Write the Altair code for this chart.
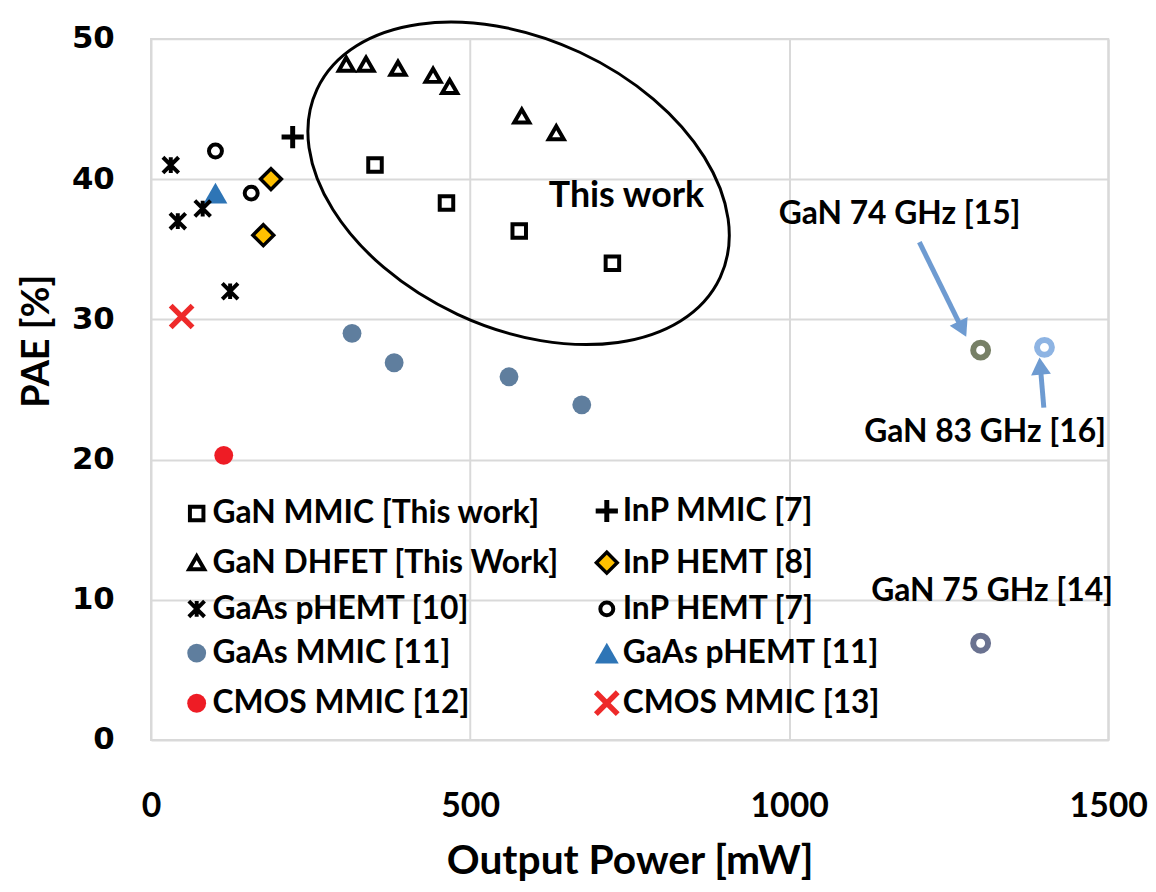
import altair as alt
import pandas as pd

# ---------------- data ----------------
x_ticks = [0, 500, 1000, 1500]
y_ticks = [0, 10, 20, 30, 40, 50]

# legend entries, column by column (left column first)
legend_order = [
    "GaN MMIC [This work]", "GaN DHFET [This Work]", "GaAs pHEMT [10]",
    "GaAs MMIC [11]", "CMOS MMIC [12]",
    "InP MMIC [7]", "InP HEMT [8]", "InP HEMT [7]",
    "GaAs pHEMT [11]", "CMOS MMIC [13]",
]

gan_mmic_x = [351, 463, 577, 723]
gan_mmic_y = [41.0, 38.3, 36.3, 34.0]
gan_dhfet_x = [306, 337, 387, 442, 468, 581, 635]
gan_dhfet_y = [48.2, 48.2, 47.9, 47.4, 46.6, 44.5, 43.3]
gaas_phemt10_x = [31, 42, 81, 124]
gaas_phemt10_y = [41.0, 37.0, 37.9, 32.0]
inp_hemt7_x = [101, 157]
inp_hemt7_y = [42.0, 39.0]
inp_hemt8_x = [188, 176]
inp_hemt8_y = [40.0, 36.0]
inp_mmic7_x = [222]
inp_mmic7_y = [43.0]
gaas_phemt11_x = [101]
gaas_phemt11_y = [39.0]
gaas_mmic11_x = [315, 381, 561, 675]
gaas_mmic11_y = [29.0, 26.9, 25.9, 23.9]
cmos12_x = [114]
cmos12_y = [20.3]
cmos13_x = [48]
cmos13_y = [30.2]

gan_ref_labels = ["GaN 74 GHz [15]", "GaN 83 GHz [16]", "GaN 75 GHz [14]"]
gan_ref_x = [1300, 1400, 1300]
gan_ref_y = [27.8, 28.0, 6.9]

# annotation anchors (data units)
label_x = [1173, 1307, 1318]
label_y = [37.5, 21.95, 10.6]
this_work_x = [745]
this_work_y = [38.8]
ellipse_cx = [576]
ellipse_cy = [39.7]
arrow_x = [1204, 1399]
arrow_y = [35.5, 23.7]
arrow_x2 = [1269, 1394]
arrow_y2 = [29.5, 26.4]
head1_x, head1_y = [1271.5], [29.3]
head2_x, head2_y = [1393.4], [26.66]

# ---------------- build tables ----------------
groups = [
    ("GaAs pHEMT [11]", gaas_phemt11_x, gaas_phemt11_y),
    ("GaAs pHEMT [10]", gaas_phemt10_x, gaas_phemt10_y),
    ("InP HEMT [7]", inp_hemt7_x, inp_hemt7_y),
    ("InP HEMT [8]", inp_hemt8_x, inp_hemt8_y),
    ("InP MMIC [7]", inp_mmic7_x, inp_mmic7_y),
    ("GaAs MMIC [11]", gaas_mmic11_x, gaas_mmic11_y),
    ("CMOS MMIC [12]", cmos12_x, cmos12_y),
    ("CMOS MMIC [13]", cmos13_x, cmos13_y),
    ("GaN MMIC [This work]", gan_mmic_x, gan_mmic_y),
    ("GaN DHFET [This Work]", gan_dhfet_x, gan_dhfet_y),
]
rows = []
for name, xs, ys in groups:
    for xv, yv in zip(xs, ys):
        rows.append({"series": name, "x": xv, "y": yv})
pts = pd.DataFrame(rows)

STAR = "M -1 -1 L 1 1 M -1 1 L 1 -1 M 0 -1 L 0 1"
PLUS = "M -1 0 L 1 0 M 0 -1 L 0 1"
XMARK = "M -1 -1 L 1 1 M -1 1 L 1 -1"
ELLIPSE = ("M 1 0 C 1 0.359 0.552 0.65 0 0.65 C -0.552 0.65 -1 0.359 -1 0 "
           "C -1 -0.359 -0.552 -0.65 0 -0.65 C 0.552 -0.65 1 -0.359 1 0 Z")

# marker style per series: shape, fill, stroke, stroke width, size
style = {
    "GaN MMIC [This work]": ("square", "white", "black", 4, 185),
    "GaN DHFET [This Work]": ("triangle-up", "white", "black", 4, 230),
    "GaAs pHEMT [10]": (STAR, "transparent", "black", 4, 250),
    "GaAs MMIC [11]": ("circle", "#5f7e9e", "#5f7e9e", 0, 361),
    "CMOS MMIC [12]": ("circle", "#ee1c25", "#ee1c25", 0, 361),
    "InP MMIC [7]": (PLUS, "transparent", "black", 5, 500),
    "InP HEMT [8]": ("diamond", "#ffc000", "black", 3.5, 441),
    "InP HEMT [7]": ("circle", "white", "black", 4, 170),
    "GaAs pHEMT [11]": ("triangle-up", "#2e75b6", "#2e75b6", 0, 576),
    "CMOS MMIC [13]": (XMARK, "transparent", "#ee2a2a", 5.5, 484),
}
shape_range = [style[s][0] for s in legend_order]
fill_range = [style[s][1] for s in legend_order]
stroke_range = [style[s][2] for s in legend_order]
sw_range = [style[s][3] for s in legend_order]
size_range = [style[s][4] for s in legend_order]

xscale = alt.Scale(domain=[0, 1500], nice=False, zero=False)
yscale = alt.Scale(domain=[0, 50], nice=False, zero=False)
GRID = "#d9d9d9"
xaxis = alt.Axis(values=x_ticks, format="d", grid=True, gridColor=GRID, gridWidth=2,
                 domain=False, ticks=False, tickSize=0, labelFont="Lato", labelFontSize=34,
                 labelFontWeight="bold", labelColor="black", labelPadding=50,
                 labelFlush=False, titleFont="Lato", titleFontSize=41,
                 titleFontWeight="bold", titleColor="black", titleY=134,
                 titleBaseline="alphabetic")
yaxis = alt.Axis(values=y_ticks, grid=True, gridColor=GRID, gridWidth=2, domain=False,
                 ticks=False, tickSize=0, labelFont="DejaVu Sans", labelFontSize=31,
                 labelFontWeight="bold", labelColor="black", labelPadding=37,
                 labelBaseline="middle", titleFont="Lato", titleFontSize=38,
                 titleFontWeight="bold", titleColor="black", titleAngle=270,
                 titleX=-114, titleY=304, titleAlign="center", titleBaseline="middle")


def X(field="x"):
    return alt.X(f"{field}:Q", scale=xscale, axis=xaxis, title="Output Power [mW]")


def Y(field="y"):
    return alt.Y(f"{field}:Q", scale=yscale, axis=yaxis, title="PAE [%]")


points = alt.Chart(pts).mark_point(opacity=1).encode(
    x=X(), y=Y(),
    shape=alt.Shape("series:N", scale=alt.Scale(domain=legend_order, range=shape_range), title=""),
    fill=alt.Fill("series:N", scale=alt.Scale(domain=legend_order, range=fill_range), title=""),
    stroke=alt.Stroke("series:N", scale=alt.Scale(domain=legend_order, range=stroke_range), title=""),
    strokeWidth=alt.StrokeWidth("series:N", scale=alt.Scale(type="ordinal", domain=legend_order,
                                                             range=sw_range), title=""),
    size=alt.Size("series:N", scale=alt.Scale(type="ordinal", domain=legend_order,
                                              range=size_range), title=""),
)

ref_df = pd.DataFrame({"label": gan_ref_labels, "x": gan_ref_x, "y": gan_ref_y})
ring_colors = ["#778066", "#8eb4e3", "#6a7290"]
rings = [
    alt.Chart(ref_df).transform_filter(alt.datum.label == lab).mark_point(
        shape="circle", size=225, strokeWidth=6, fill="white", stroke=col,
        filled=False, opacity=1).encode(x=X(), y=Y())
    for lab, col in zip(gan_ref_labels, ring_colors)
]

ell_df = pd.DataFrame({"x": ellipse_cx, "y": ellipse_cy})
ellipse = alt.Chart(ell_df).mark_point(shape=ELLIPSE, size=200704, angle=25, stroke="black",
                                       strokeWidth=3, fill="transparent", filled=False,
                                       opacity=1, clip=False).encode(x=X(), y=Y())

ARROW = "#6e9bd1"
arr_df = pd.DataFrame({"x": arrow_x, "y": arrow_y, "x2": arrow_x2, "y2": arrow_y2})
arrows = alt.Chart(arr_df).mark_rule(color=ARROW, strokeWidth=5).encode(
    x=X(), y=Y(), x2="x2:Q", y2="y2:Q")
head1 = alt.Chart(pd.DataFrame({"x": head1_x, "y": head1_y})).mark_point(
    shape="triangle-up", size=400, angle=154, fill=ARROW, filled=True, strokeWidth=0,
    opacity=1).encode(x=X(), y=Y())
head2 = alt.Chart(pd.DataFrame({"x": head2_x, "y": head2_y})).mark_point(
    shape="triangle-up", size=400, angle=355, fill=ARROW, filled=True, strokeWidth=0,
    opacity=1).encode(x=X(), y=Y())

lab_df = pd.DataFrame({"label": gan_ref_labels, "x": label_x, "y": label_y})
labels = alt.Chart(lab_df).mark_text(font="Lato", fontSize=32, fontWeight="bold",
                                     color="black", align="center", baseline="middle").encode(
    x=X(), y=Y(), text="label:N")
tw_df = pd.DataFrame({"label": ["This work"], "x": this_work_x, "y": this_work_y})
this_work = alt.Chart(tw_df).mark_text(font="Lato", fontSize=36, fontWeight="bold",
                                       color="black", align="center", baseline="middle").encode(
    x=X(), y=Y(), text="label:N")

chart = alt.layer(points, *rings, ellipse, arrows, head1, head2, labels, this_work).properties(
    width=964, height=706,
    autosize=alt.AutoSizeParams(type="none"),
    padding={"left": 144, "top": 28, "right": 40, "bottom": 150},
    background="white",
).configure_view(stroke=GRID, strokeWidth=2).configure_legend(
    orient="none", legendX=30, legendY=459, columns=2, columnPadding=25, rowPadding=12.5,
    labelFont="Lato", labelFontSize=32, labelFontWeight="bold", labelColor="black",
    labelOffset=0, labelLimit=600, padding=0, symbolLimit=0, gridAlign="each",
)

chart.save("out.html", embed_options={"renderer": "svg", "actions": False})
